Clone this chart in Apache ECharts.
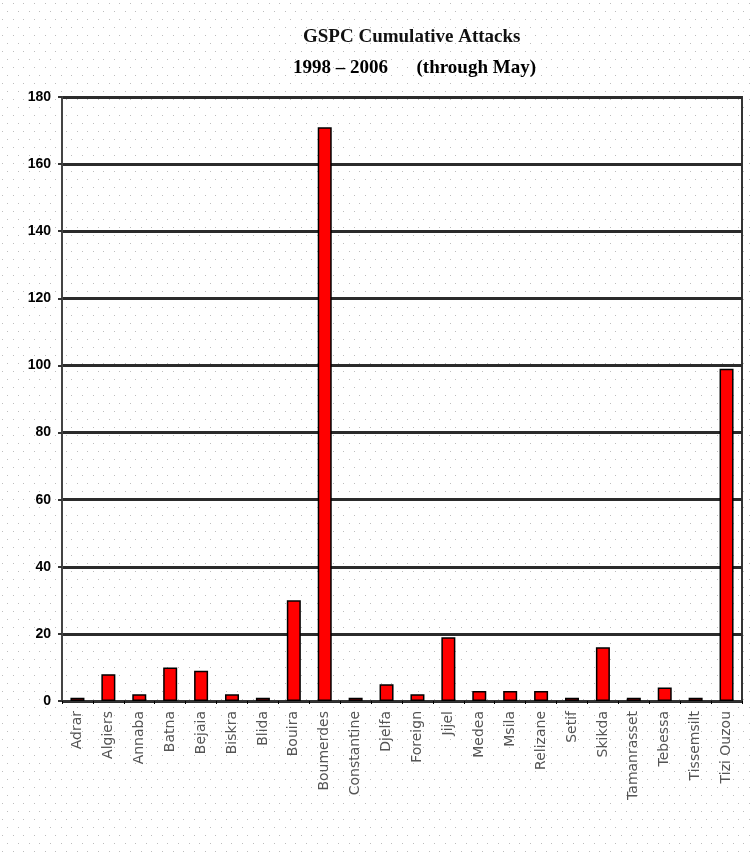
<!DOCTYPE html>
<html>
<head>
<meta charset="utf-8">
<title>GSPC Cumulative Attacks</title>
<script src="https://cdn.jsdelivr.net/npm/echarts@6/dist/echarts.min.js"></script>
<style>
  html, body { margin: 0; padding: 0; background: #fff; }
  #chart { width: 751px; height: 852px; }
</style>
</head>
<body>
<div id="chart"></div>
<script>
// Attacks per wilaya, 1998 - 2006 (through May)
const provinces = [
  'Adrar', 'Algiers', 'Annaba', 'Batna', 'Bejaia', 'Biskra', 'Blida', 'Bouira',
  'Boumerdes', 'Constantine', 'Djelfa', 'Foreign', 'Jijel', 'Medea', 'Msila',
  'Relizane', 'Setif', 'Skikda', 'Tamanrasset', 'Tebessa', 'Tissemsilt', 'Tizi Ouzou'
];
const attacks = [1, 8, 2, 10, 9, 2, 1, 30, 171, 1, 5, 2, 19, 3, 3, 3, 1, 16, 1, 4, 1, 99];
const yTicks = [0, 20, 40, 60, 80, 100, 120, 140, 160, 180];

// dotted paper texture for the page background
function dotPattern() {
  const c = document.createElement('canvas');
  c.width = 32; c.height = 16;
  const ctx = c.getContext('2d');
  ctx.fillStyle = '#ffffff';
  ctx.fillRect(0, 0, 32, 16);
  ctx.fillStyle = '#bdbdbd';
  [[2, 3], [13, 3], [23, 3], [7, 11], [18, 11], [29, 11]].forEach(([x, y]) => ctx.fillRect(x, y, 1, 1));
  return c;
}

const chart = echarts.init(document.getElementById('chart'), null, { renderer: 'canvas' });
chart.setOption({
  animation: false,
  backgroundColor: { image: dotPattern(), repeat: 'repeat' },
  title: [
    {
      text: 'GSPC Cumulative Attacks',
      left: 298, top: 23,
      textStyle: { fontFamily: 'Liberation Serif', fontSize: 19, fontWeight: 'bold', color: '#111' }
    },
    {
      text: '1998 \u2013 2006\u00a0\u00a0\u00a0\u00a0\u00a0\u00a0(through May)',
      left: 288, top: 54,
      textStyle: { fontFamily: 'Liberation Serif', fontSize: 19, fontWeight: 'bold', color: '#000' }
    }
  ],
  grid: {
    left: 62, right: 9, top: 97, bottom: 151,
    show: true, borderColor: '#333', borderWidth: 2, backgroundColor: 'transparent'
  },
  xAxis: {
    type: 'category',
    data: provinces,
    boundaryGap: true,
    axisLine: { lineStyle: { color: '#333', width: 2 } },
    axisTick: { show: true, length: 3, lineStyle: { color: '#000', width: 1 } },
    axisLabel: {
      rotate: 90, interval: 0, margin: 10,
      fontFamily: 'DejaVu Sans', fontSize: 14, color: '#555'
    }
  },
  yAxis: {
    type: 'value',
    min: yTicks[0], max: yTicks[yTicks.length - 1], interval: yTicks[1] - yTicks[0],
    axisLine: { show: true, lineStyle: { color: '#444', width: 2 } },
    axisTick: { show: true, length: 4, lineStyle: { color: '#333', width: 2 } },
    axisLabel: {
      margin: 11,
      fontFamily: 'Liberation Sans', fontSize: 14, fontWeight: 'bold', color: '#000'
    },
    splitLine: { show: true, lineStyle: { color: '#2b2b2b', width: 3 } }
  },
  series: [{
    type: 'bar',
    data: attacks,
    barWidth: 14,
    itemStyle: { color: '#ff0000', borderColor: '#000', borderWidth: 1.5 }
  }]
});
</script>
</body>
</html>
